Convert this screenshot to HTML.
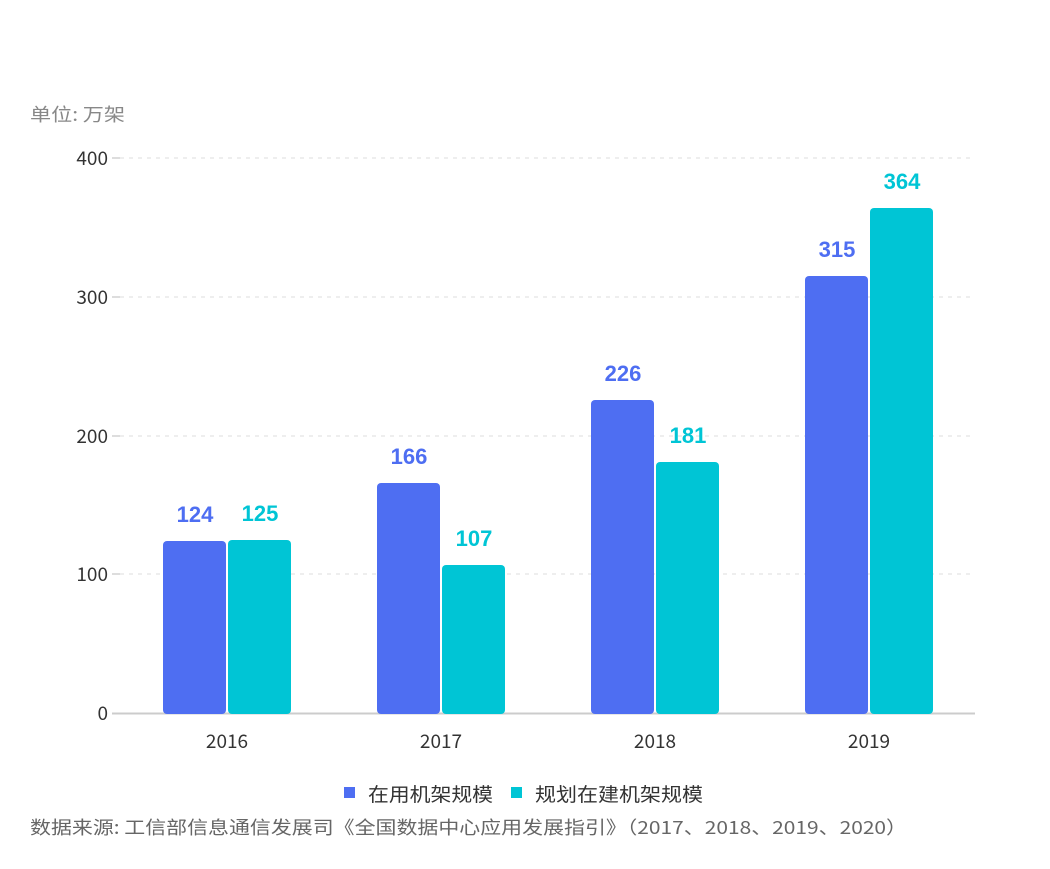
<!DOCTYPE html>
<html><head><meta charset="utf-8"><style>
body{margin:0;background:#fff;}
text{font-family:"Liberation Sans","Noto Sans CJK SC",sans-serif;}
.c{font-family:"Noto Sans CJK SC","Liberation Sans",sans-serif;}
</style></head><body>
<svg width="1050" height="864" xmlns="http://www.w3.org/2000/svg">
<text class="c" x="30" y="121" font-size="18" fill="#888" textLength="95" lengthAdjust="spacingAndGlyphs">单位: 万架</text>
<g stroke="#ddd" stroke-dasharray="4,5" stroke-width="1">
<line x1="120" y1="158" x2="975" y2="158"/>
<line x1="120" y1="297" x2="975" y2="297"/>
<line x1="120" y1="436" x2="975" y2="436"/>
<line x1="120" y1="574" x2="975" y2="574"/>
</g>
<g stroke="#bbb"><line x1="112" y1="158" x2="120" y2="158"/><line x1="112" y1="297" x2="120" y2="297"/><line x1="112" y1="436" x2="120" y2="436"/><line x1="112" y1="574" x2="120" y2="574"/></g>
<line x1="112" y1="713.5" x2="975" y2="713.5" stroke="#ccc" stroke-width="2"/>
<g class="c" font-size="19" fill="#333" text-anchor="end">
<text class="c" x="108" y="165">400</text><text class="c" x="108" y="304">300</text><text class="c" x="108" y="443">200</text><text class="c" x="108" y="581">100</text><text class="c" x="108" y="720">0</text>
</g>
<g font-size="19" fill="#333" text-anchor="middle">
<text class="c" x="227" y="748">2016</text><text class="c" x="441" y="748">2017</text><text class="c" x="655" y="748">2018</text><text class="c" x="869" y="748">2019</text>
</g>
<g fill="#4e6ef2">
<rect x="163" y="541" width="63" height="173" rx="4"/>
<rect x="377" y="483" width="63" height="231" rx="4"/>
<rect x="591" y="400" width="63" height="314" rx="4"/>
<rect x="805" y="276" width="63" height="438" rx="4"/>
</g>
<g fill="#00c5d5">
<rect x="228" y="540" width="63" height="174" rx="4"/>
<rect x="442" y="565" width="63" height="149" rx="4"/>
<rect x="656" y="462" width="63" height="252" rx="4"/>
<rect x="870" y="208" width="63" height="506" rx="4"/>
</g>
<g font-size="22" font-weight="bold" text-anchor="middle" fill="#4e6ef2">
<text x="195" y="522">124</text><text x="409" y="464">166</text><text x="623" y="381">226</text><text x="837" y="257">315</text>
</g>
<g font-size="22" font-weight="bold" text-anchor="middle" fill="#00c5d5">
<text x="260" y="521">125</text><text x="474" y="546">107</text><text x="688" y="443">181</text><text x="902" y="189">364</text>
</g>
<rect x="344" y="787" width="11" height="11" fill="#4e6ef2"/>
<text class="c" x="368" y="801" font-size="19" fill="#333" textLength="125" lengthAdjust="spacingAndGlyphs">在用机架规模</text>
<rect x="511" y="787" width="11" height="11" fill="#00c5d5"/>
<text class="c" x="535" y="801" font-size="19" fill="#333" textLength="168" lengthAdjust="spacingAndGlyphs">规划在建机架规模</text>
<text class="c" x="30" y="834" font-size="18" fill="#666" textLength="877" lengthAdjust="spacingAndGlyphs">数据来源: 工信部信息通信发展司《全国数据中心应用发展指引》（2017、2018、2019、2020）</text>
</svg>
</body></html>
